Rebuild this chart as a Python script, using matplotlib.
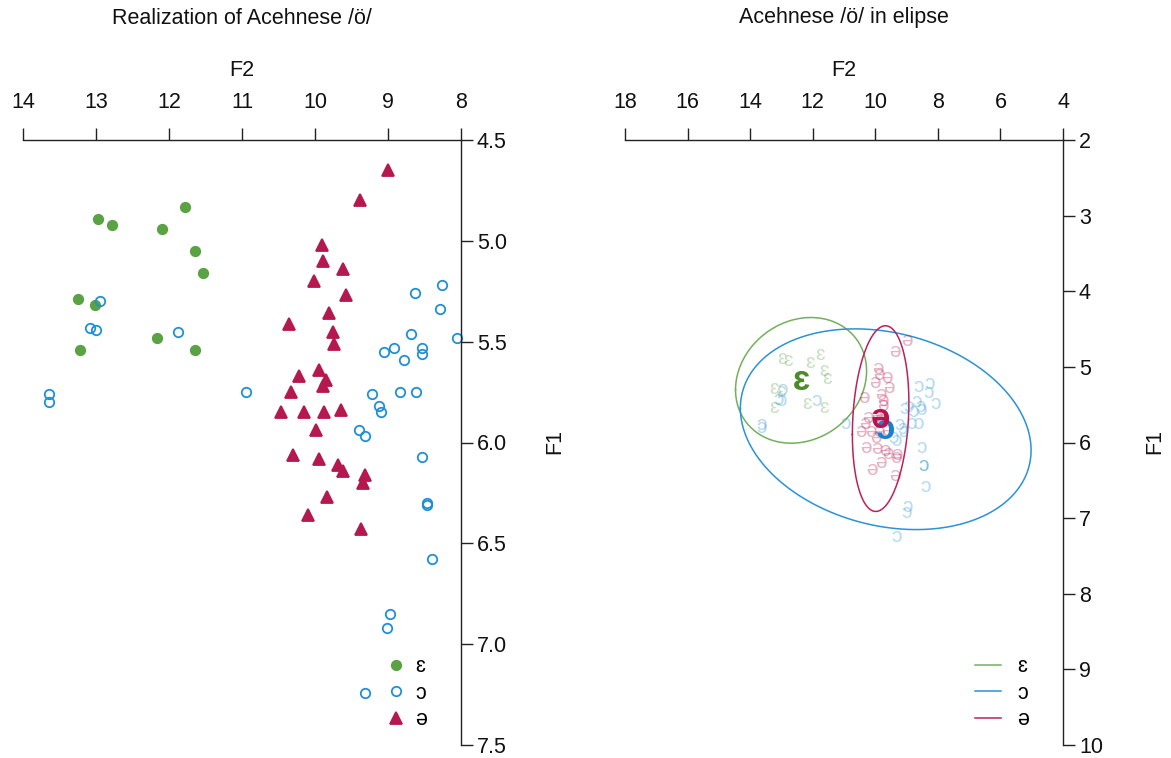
import numpy as np
import matplotlib
matplotlib.use("Agg")
import matplotlib.pyplot as plt
from matplotlib.lines import Line2D

plt.rcParams['font.family'] = ['Liberation Sans', 'DejaVu Sans']

# ---------------- data ----------------
vowels = ["ɛ", "ɔ", "ə"]

F2_e = [11.78, 12.97, 12.78, 12.09, 11.65, 11.53, 13.24, 13.02, 12.17, 13.22, 11.65]
F1_e = [4.83, 4.89, 4.92, 4.94, 5.05, 5.16, 5.29, 5.32, 5.48, 5.54, 5.54]

F2_o = [12.95, 13.08, 13.00, 11.88, 13.64, 13.64, 8.26, 8.63, 8.29, 8.69, 8.06,
        8.92, 9.05, 8.54, 8.53, 8.78, 10.95, 9.22, 8.84, 8.61, 9.12, 9.10,
        9.40, 9.32, 8.53, 8.47, 8.46, 8.40, 8.97, 9.01, 9.32]
F1_o = [5.30, 5.43, 5.44, 5.45, 5.76, 5.80, 5.22, 5.26, 5.34, 5.46, 5.48,
        5.53, 5.55, 5.53, 5.56, 5.59, 5.75, 5.76, 5.75, 5.75, 5.82, 5.85,
        5.94, 5.97, 6.07, 6.30, 6.31, 6.58, 6.85, 6.92, 7.24]

F2_a = [9.00, 9.38, 9.91, 9.89, 9.62, 10.02, 9.57, 9.81, 10.35, 9.75, 9.74,
        9.95, 10.22, 9.85, 9.89, 10.33, 10.46, 10.15, 9.87, 9.64, 9.99,
        10.30, 9.95, 9.68, 9.61, 9.31, 9.34, 9.83, 10.10, 9.37]
F1_a = [4.65, 4.80, 5.02, 5.10, 5.14, 5.20, 5.27, 5.36, 5.41, 5.45, 5.51,
        5.64, 5.67, 5.69, 5.72, 5.75, 5.85, 5.85, 5.85, 5.84, 5.94,
        6.06, 6.08, 6.11, 6.14, 6.16, 6.20, 6.27, 6.36, 6.43]

F2_data = [F2_e, F2_o, F2_a]
F1_data = [F1_e, F1_o, F1_a]

left_xticks = [14, 13, 12, 11, 10, 9, 8]
left_yticks = [4.5, 5.0, 5.5, 6.0, 6.5, 7.0, 7.5]
right_xticks = [18, 16, 14, 12, 10, 8, 6, 4]
right_yticks = [2, 3, 4, 5, 6, 7, 8, 9, 10]

ellipse_level = 0.95

# ---------------- style ----------------
point_colors = ["#5BA244", "#1F8FD6", "#B5174F"]
ell_colors = ["#74B05C", "#2A92D6", "#BE2158"]
cent_colors = ["#4C8A2A", "#1A80CC", "#B8124F"]
markers = ["o", "o", "^"]
fills = [True, False, True]
msizes = [6.8, 6.8, 8.8]

W, H = 1171, 758
fig = plt.figure(figsize=(W / 100, H / 100), dpi=100)

axL = fig.add_axes([23 / W, 13 / H, 438 / W, 605 / H])
axR = fig.add_axes([625 / W, 13 / H, 438 / W, 605 / H])

FS = 15.5


def style_axes(ax, xt, yt):
    ax.set_xlim(xt[0], xt[-1])
    ax.set_ylim(yt[-1], yt[0])
    for s in ["left", "bottom"]:
        ax.spines[s].set_visible(False)
    ax.spines["top"].set_bounds(xt[0], xt[-1])
    ax.spines["right"].set_bounds(yt[0], yt[-1])
    for s in ["top", "right"]:
        ax.spines[s].set_linewidth(1.0)
        ax.spines[s].set_color("#222222")
    ax.xaxis.tick_top()
    ax.yaxis.tick_right()
    ax.set_xticks(xt)
    ax.set_yticks(yt)
    ax.set_xticklabels([("%g" % v) for v in xt])
    ax.tick_params(axis="both", direction="out", length=8.5, width=1.0,
                   color="#222222", labelsize=FS, labelcolor="#111111")
    ax.tick_params(axis="x", pad=11)
    ax.tick_params(axis="y", pad=3)
    ax.patch.set_alpha(0)


style_axes(axL, left_xticks, left_yticks)
axL.set_yticklabels(["%.1f" % v for v in left_yticks])
style_axes(axR, right_xticks, right_yticks)

# ---------------- left panel ----------------
handles = []
for i, v in enumerate(vowels):
    c = point_colors[i]
    axL.plot(F2_data[i], F1_data[i], linestyle="none", marker=markers[i],
             markersize=msizes[i], markeredgewidth=1.3,
             markerfacecolor=c if fills[i] else "none", markeredgecolor=c,
             clip_on=False)
    handles.append(Line2D([], [], linestyle="none", marker=markers[i],
                          markersize=msizes[i], markeredgewidth=1.3,
                          markerfacecolor=c if fills[i] else "none",
                          markeredgecolor=c))
axL.legend(handles, vowels, loc="upper left", bbox_to_anchor=(0.826, 0.147),
           frameon=False, fontsize=FS, handlelength=1.0, handletextpad=0.4,
           labelspacing=0.26, borderpad=0, borderaxespad=0)

# ---------------- right panel ----------------
t = np.linspace(0, 2 * np.pi, 300)
lhandles = []
for i, v in enumerate(vowels):
    x = np.asarray(F2_data[i])
    y = np.asarray(F1_data[i])
    n = len(x)
    # radius from the F(2, n-2) quantile (closed form for 2 numerator df)
    r = np.sqrt((n - 1) * ((1 - ellipse_level) ** (-2.0 / (n - 2)) - 1))
    for xx, yy in zip(x, y):
        axR.text(xx, yy, v, color=point_colors[i], alpha=0.33, fontsize=15,
                 ha="center", va="center")
    mu = np.array([x.mean(), y.mean()])
    cov = np.cov(np.vstack([x, y]))
    L = np.linalg.cholesky(cov)
    pts = mu[:, None] + r * L @ np.vstack([np.cos(t), np.sin(t)])
    axR.plot(pts[0], pts[1], color=ell_colors[i], linewidth=1.1, clip_on=False)
    lhandles.append(Line2D([], [], color=ell_colors[i], linewidth=1.1))

for i, v in enumerate(vowels):
    x = np.asarray(F2_data[i])
    y = np.asarray(F1_data[i])
    axR.text(x.mean(), y.mean(), v, color=cent_colors[i], fontsize=25,
             fontweight="bold", ha="center", va="center")

axR.legend(lhandles, vowels, loc="upper left", bbox_to_anchor=(0.80, 0.147),
           frameon=False, fontsize=FS, handlelength=1.2, handletextpad=0.75,
           labelspacing=0.26, borderpad=0, borderaxespad=0)

# ---------------- titles & labels ----------------
for cx, title, f1x in [(242, "Realization of Acehnese /ö/", 555),
                       (844, "Acehnese /ö/ in elipse", 1155)]:
    fig.text(cx / W, 1 - 18 / H, title, ha="center", va="center",
             fontsize=FS, color="#111111")
    fig.text(cx / W, 1 - 70 / H, "F2", ha="center", va="center",
             fontsize=FS, color="#111111")
    fig.text(f1x / W, 1 - 442 / H, "F1", ha="center", va="center",
             rotation=90, fontsize=FS, color="#111111")

fig.savefig("out.png", dpi=100)
